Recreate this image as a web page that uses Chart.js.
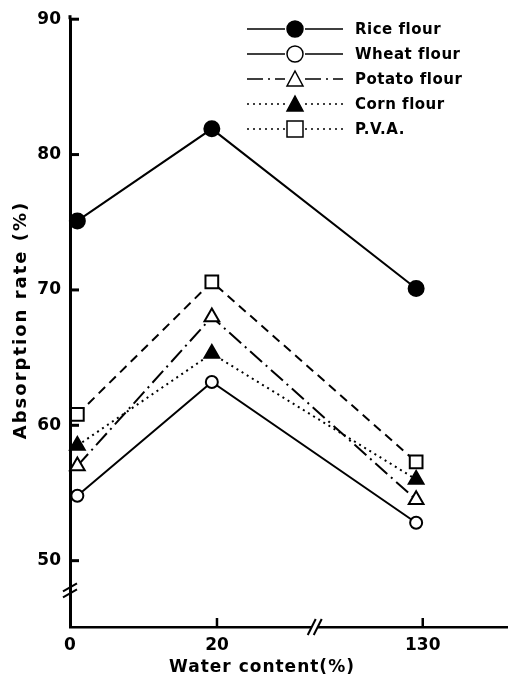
<!DOCTYPE html>
<html>
<head>
<meta charset="utf-8">
<script src="https://cdn.jsdelivr.net/npm/chart.js@4.4.1/dist/chart.umd.min.js"></script>
<style>
  html, body { margin: 0; padding: 0; background: #fff; }
  #wrap { width: 508px; height: 683px; position: relative; }
</style>
</head>
<body>
<div id="wrap"><canvas id="absorptionChart"></canvas></div>
<script>
// water content ticks (axis is broken between 20 and 130)
const xLabels = ['0', '20', '130'];
const xTickPos = [0, 20, 48];
const xPointPos = [1, 19.3, 47.1];
const yTicks = [50, 60, 70, 80, 90];

const seriesNames = ['Rice flour', 'Wheat flour', 'Potato flour', 'Corn flour', 'P.V.A.'];
const rice = [75.1, 81.9, 70.1];
const wheat = [54.8, 63.2, 52.8];
const potato = [57.0, 68.0, 54.5];
const corn = [58.5, 65.3, 56.0];
const pva = [60.8, 70.6, 57.3];

const FONT = '"DejaVu Sans"';

function pts(vals) {
    return xPointPos.map((x, i) => ({ x: x, y: vals[i] }));
}

function makeSet(label, vals, style) {
    return Object.assign({
        label: label,
        data: pts(vals),
        borderColor: '#000',
        pointBorderColor: '#000',
        borderWidth: 2,
        pointBorderWidth: 2,
        tension: 0,
        clip: false
    }, style);
}

const datasets = [
    makeSet(seriesNames[0], rice, { pointStyle: 'circle', pointRadius: 7.5, pointBackgroundColor: '#000', legendDash: [] }),
    makeSet(seriesNames[1], wheat, { pointStyle: 'circle', pointRadius: 6, pointBackgroundColor: '#fff', legendDash: [] }),
    makeSet(seriesNames[2], potato, { pointStyle: 'triangle', pointRadius: 8.5, pointBackgroundColor: '#fff', borderDash: [16, 5, 2, 5], legendDash: [16, 5, 2, 5] }),
    makeSet(seriesNames[3], corn, { pointStyle: 'triangle', pointRadius: 8.5, pointBackgroundColor: '#000', borderDash: [2, 4], legendDash: [2, 4] }),
    makeSet(seriesNames[4], pva, { pointStyle: 'rect', pointRadius: 9, pointBackgroundColor: '#fff', borderDash: [9, 6], legendDash: [2, 4] })
];

// inward ticks, axis breaks, titles and the legend
const decorations = {
    id: 'decorations',
    afterDraw(chart) {
        const ctx = chart.ctx;
        const xs = chart.scales.x;
        const ys = chart.scales.y;
        const area = chart.chartArea;
        ctx.save();
        ctx.strokeStyle = '#000';
        ctx.fillStyle = '#000';
        ctx.setLineDash([]);

        // axis runs a little above the top tick
        ctx.lineWidth = 3;
        ctx.beginPath();
        ctx.moveTo(area.left, area.top - 4);
        ctx.lineTo(area.left, area.top);
        ctx.stroke();

        // y ticks pointing right
        ctx.lineWidth = 3;
        yTicks.forEach(v => {
            const y = ys.getPixelForValue(v);
            ctx.beginPath();
            ctx.moveTo(area.left, y);
            ctx.lineTo(area.left + 9, y);
            ctx.stroke();
        });
        // x ticks pointing up
        ctx.lineWidth = 2.5;
        xTickPos.slice(1).forEach(v => {
            const x = xs.getPixelForValue(v);
            ctx.beginPath();
            ctx.moveTo(x, area.bottom);
            ctx.lineTo(x, area.bottom - 9);
            ctx.stroke();
        });

        // y axis break
        const yb = ys.getPixelForValue(47.8);
        ctx.lineWidth = 2;
        [-3, 3].forEach(d => {
            ctx.beginPath();
            ctx.moveTo(area.left - 7, yb + d + 4);
            ctx.lineTo(area.left + 7, yb + d - 4);
            ctx.stroke();
        });
        // x axis break
        const xb = xs.getPixelForValue(33.3);
        ctx.fillStyle = '#fff';
        ctx.fillRect(xb - 3, area.bottom - 3, 6, 6);
        [-3, 3].forEach(d => {
            ctx.beginPath();
            ctx.moveTo(xb + d - 4, area.bottom + 8);
            ctx.lineTo(xb + d + 4, area.bottom - 8);
            ctx.stroke();
        });

        // axis titles
        ctx.fillStyle = '#000';
        ctx.font = 'bold 18px ' + FONT;
        ctx.letterSpacing = '2px';
        ctx.textAlign = 'center';
        ctx.textBaseline = 'middle';
        ctx.save();
        ctx.translate(21, 320);
        ctx.rotate(-Math.PI / 2);
        ctx.fillText('Absorption rate (%)', 0, 0);
        ctx.restore();
        ctx.font = 'bold 17px ' + FONT;
        ctx.letterSpacing = '1px';
        ctx.fillText('Water content(%)', 262, 668);

        // legend
        ctx.textAlign = 'left';
        ctx.font = 'bold 15px ' + FONT;
        ctx.letterSpacing = '0.5px';
        chart.data.datasets.forEach((ds, i) => {
            const y = 29 + i * 25;
            ctx.setLineDash(ds.legendDash || []);
            ctx.lineWidth = 1.5;
            ctx.beginPath();
            ctx.moveTo(247, y);
            ctx.lineTo(285, y);
            ctx.moveTo(305, y);
            ctx.lineTo(343, y);
            ctx.stroke();
            ctx.setLineDash([]);
            ctx.lineWidth = 1.5;
            ctx.fillStyle = ds.pointBackgroundColor;
            ctx.beginPath();
            if (ds.pointStyle === 'circle') {
                ctx.arc(295, y, 8, 0, Math.PI * 2);
            } else if (ds.pointStyle === 'triangle') {
                ctx.moveTo(295, y - 8);
                ctx.lineTo(303, y + 7);
                ctx.lineTo(287, y + 7);
                ctx.closePath();
            } else {
                ctx.rect(287, y - 8, 16, 16);
            }
            ctx.fill();
            ctx.stroke();
            ctx.fillStyle = '#000';
            ctx.fillText(ds.label, 355, y + 1);
        });
        ctx.restore();
    }
};

new Chart(document.getElementById('absorptionChart'), {
    type: 'line',
    data: { datasets: datasets },
    options: {
        responsive: true,
        maintainAspectRatio: false,
        animation: false,
        layout: { autoPadding: false, padding: { top: 14, right: 0, left: 0, bottom: 0 } },
        plugins: {
            legend: { display: false },
            tooltip: { enabled: false }
        },
        scales: {
            x: {
                type: 'linear',
                min: 0,
                max: 59.6,
                afterBuildTicks: axis => { axis.ticks = xTickPos.map(v => ({ value: v })); },
                afterFit: axis => { axis.height = 56; },
                grid: { display: false, drawTicks: false },
                border: { display: true, color: '#000', width: 2.5 },
                ticks: {
                    padding: 8,
                    color: '#000',
                    font: { family: 'DejaVu Sans', size: 17, weight: 'bold' },
                    maxRotation: 0,
                    callback: v => xLabels[xTickPos.indexOf(v)]
                }
            },
            y: {
                min: 45.1,
                max: 90,
                afterBuildTicks: axis => { axis.ticks = yTicks.map(v => ({ value: v })); },
                afterFit: axis => { axis.width = 70; },
                grid: { display: false, drawTicks: false },
                border: { display: true, color: '#000', width: 3 },
                ticks: {
                    padding: 9,
                    color: '#000',
                    font: { family: 'DejaVu Sans', size: 17, weight: 'bold' }
                }
            }
        }
    },
    plugins: [decorations]
});
</script>
</body>
</html>
